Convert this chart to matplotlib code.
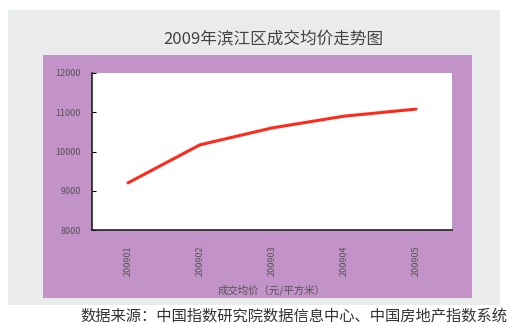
import matplotlib.pyplot as plt
from matplotlib.patches import Rectangle

plt.rcParams['font.family'] = ['Noto Sans CJK SC', 'DejaVu Sans']

# 数据
periods = ['200901', '200902', '200903', '200904', '200905']
prices = [9200, 10170, 10600, 10900, 11080]
yticks = [8000, 9000, 10000, 11000, 12000]

W, H = 508, 325
fig = plt.figure(figsize=(W / 100, H / 100), dpi=100)
fig.patch.set_facecolor('white')

# 灰色底板与紫色绘图区
fig.patches.append(Rectangle((8 / W, 1 - 305 / H), 492 / W, 295 / H,
                             transform=fig.transFigure, facecolor='#eaeceb',
                             edgecolor='none', zorder=-2))
fig.patches.append(Rectangle((43 / W, 1 - 298 / H), 429 / W, 243 / H,
                             transform=fig.transFigure, facecolor='#c292c8',
                             edgecolor='none', zorder=-1))

fig.text(273 / W, 1 - 40 / H, '2009年滨江区成交均价走势图', ha='center', va='center',
         fontsize=12, color='#444444')

ax = fig.add_axes([92 / W, 1 - 230 / H, 360 / W, 157 / H])
ax.set_facecolor('white')
x = range(len(periods))
ax.plot(x, prices, color='#ff2a1a', linewidth=2.2, solid_capstyle='round')
ax.set_xlim(-0.5, len(periods) - 0.5)
ax.set_ylim(8000, 12000)
ax.set_yticks(yticks)
ax.set_yticklabels([str(v) for v in yticks], fontsize=6.5, color='#555555')
ax.set_xticks(list(x))
ax.set_xticklabels(periods, rotation=90, fontsize=6.5, color='#555555')
ax.tick_params(axis='y', direction='in', length=3, width=0.8, pad=8)
ax.tick_params(axis='x', length=0, pad=11)
for s in ['top', 'right']:
    ax.spines[s].set_visible(False)
for s in ['left', 'bottom']:
    ax.spines[s].set_color('#222222')
    ax.spines[s].set_linewidth(1.2)
ax.set_xlabel('成交均价（元/平方米）', fontsize=7.5, color='#555555', labelpad=6)

fig.text(80 / W, 1 - 316 / H, '数据来源：中国指数研究院数据信息中心、中国房地产指数系统',
         ha='left', va='center', fontsize=11, color='#333333')

fig.savefig('out.png', dpi=100)
